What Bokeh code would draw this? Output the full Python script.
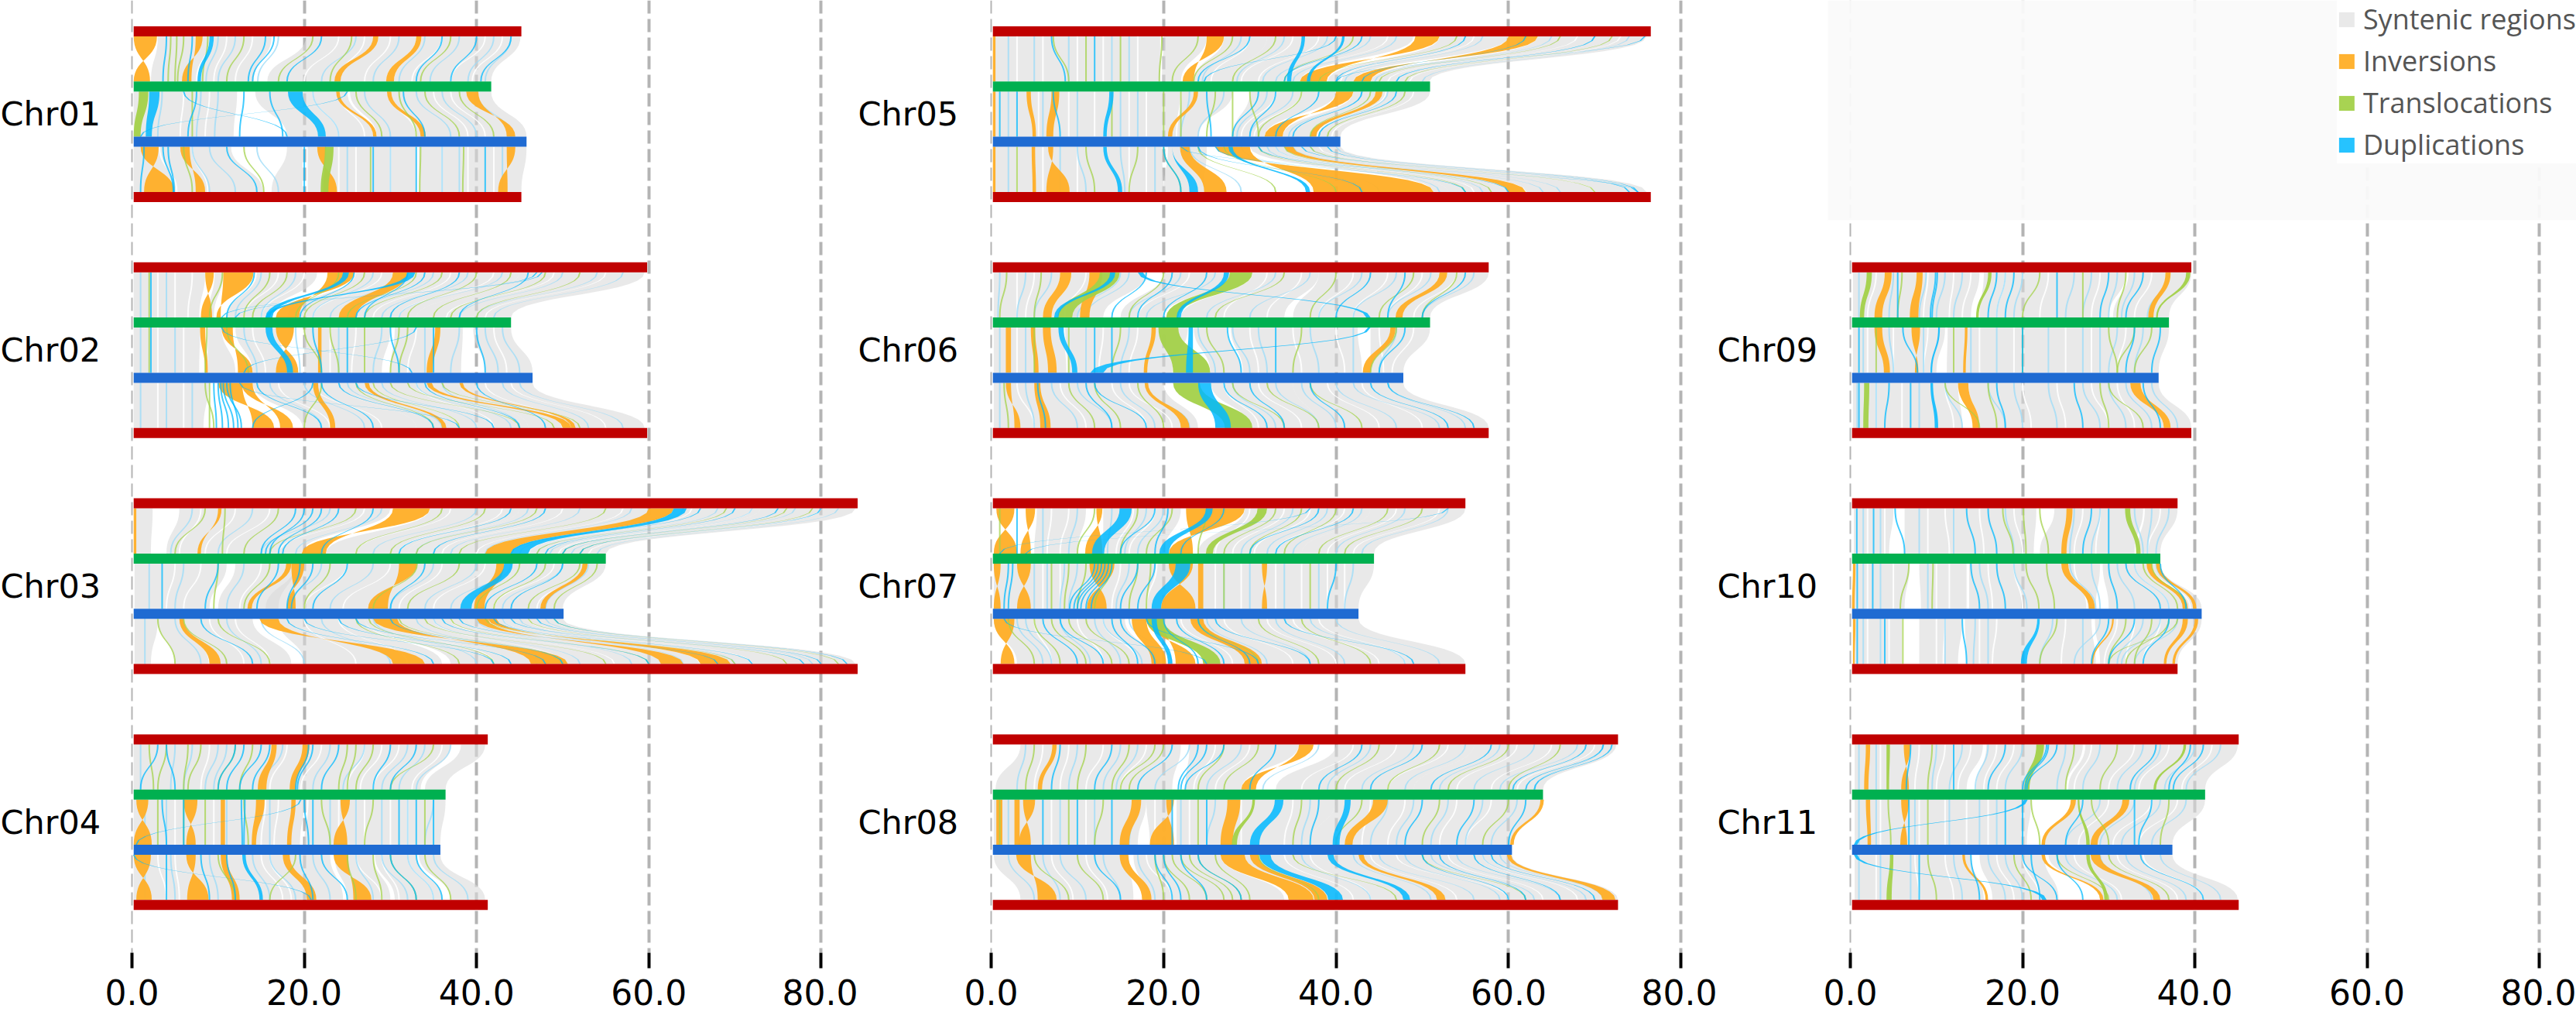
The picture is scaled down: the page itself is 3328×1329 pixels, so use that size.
from bokeh.plotting import figure
from bokeh.models import Range1d, FixedTicker, NumeralTickFormatter, Legend, LegendItem, Grid, ColumnDataSource
from bokeh.layouts import row as bk_row
from bokeh.core.properties import value
from bokeh.embed import file_html
from bokeh.resources import INLINE
import numpy as np

TICKS = [0, 20, 40, 60, 80]
LEGEND_LABELS = ["Syntenic regions", "Inversions", "Translocations", "Duplications"]

# each ribbon: (top_start, top_end, bottom_start, bottom_end) in Mb; a pair (top, bottom) is a hairline.
# every chromosome has three gaps: reference->green, green->blue, blue->reference
chr01_len = [45.2, 41.7, 45.8]
chr01_syn = [[(3.0,9,2.2,7.4),(9.5,16.2,8,14.1),(20.2,33,15.7,29.5),(33.6,45.1,30.4,41.7)],
             [(0.2,12.2,0.2,11.8),(14.3,25,18.0,28),(25.3,41.7,28.4,45.8)],
             [(0.2,11.5,0.2,15.2),(18.0,19.8,16.2,19.8),(20.4,33,20.4,33),(33.3,45.8,33.3,45.2)]]
chr01_inv = [[(0.2,2.9,2.1,0.2),(7.4,8.2,6.9,5.8),(28.0,28.6,23.5,24.2),(33,33.6,29.5,30.4)],
             [(23.7,24.1,28,28.4),(29.6,30.1,33.5,34.1),(38.8,40.2,44.5,43.5)],
             [(1.0,3.1,4.9,1.4),(5.6,6.7,8.5,7.4),(21.5,22.5,23.8,22.2),(43.5,44.5,43.6,42.5)]]
chr01_tra = [[(4.5,4.2),(5.2,5.0),(6.0,5.3),(8.8,8.2),(13,11),(21,17),(37,33.5),(25.5,23)],
             [(0.8,1.9,0.2,1.0),(7,7),(26,29),(34,38),(31,33),(38,42)],
             [(22.4,23.4,21.9,22.8),(6,7),(13,15.3),(27.7,27.7),(33.5,33.4),(38.5,38.4)]]
chr01_dup = [[(9.0,9.5,7.6,8.0),(4.0,3.6),(7,6.5),(15.5,13.5),(16.5,14),(36,33),(40,37),(44,40.5),(22,18)],
             [(2.0,3.2,1.6,2.3),(18.1,19.8,21.6,22.5),(7.5,6.5),(13,12.5),(16,17.5),(31.5,34),(6,18),(25,1)],
             [(1.4,1.0),(3.6,4.8),(4.2,4.9),(11,14.5),(28,28),(33,33),(41,41),(20,20)]]
chr01_white = [[(11,9.5),(14,12),(24,20),(27,24),(30,27),(36,32.5),(41,37),(43,39.5)],
               [(6,5.6),(9,8.5),(21,24),(24,27),(30,33),(35,39),(37,41)],
               [(3.2,5.2),(7,8.8),(24,24),(26,26),(30,30),(36,36),(39,39),(42,42)]]
chr01_pale = [[(10,8.6),(12,10),(17,14.6),(26,22),(31,28),(34,31),(38,34.6),(42,39),(44,41)],
              [(3.5,3),(8,7.5),(10,9.6),(21,24),(27,30),(33,37),(36,40),(40,44)],
              [(7,9),(9,12),(14.5,17),(25,25),(30,30),(36,36),(38,38),(43,43)]]

chr02_len = [59.8, 44.0, 46.5]
chr02_syn = [[(0.2,8.5,0.2,7.8),(9.6,10.6,8.8,9.5),(14.5,21.5,11,16),(26,33,18,23),(33,45,23,33),(45,59.5,33,44)],
             [(0.2,7.9,0.2,7.8),(8.8,10.4,8.8,12),(12,17,14,18),(20,30,20,29),(30.5,38.4,30,38.2),(39.6,44,41,46.5)],
             [(0.2,8.9,0.2,8.3),(14,24,19.8,33),(24,38,33,46),(38,46.5,46,59.5)]]
chr02_inv = [[(8.5,9.5,9.3,8.0),(10.6,14.1,10.3,9.8),(22.7,25.8,19.4,16.7),(30.3,32,24,26)],
             [(7.9,8.5,8.5,8.8),(10.4,11.7,14,12.3),(16.7,18.8,19.3,16.7),(21.6,22,21.6,22),(35.2,35.8,34.2,34.9)],
             [(10,12.8,16.5,14),(12.7,14,18.7,17.2),(21,21.6,23,23.6),(34.2,34.8,50,51),(27,27.5,36,36.5),(38,38.4,51,51.5)]]
chr02_tra = [[(2,2),(10.5,9),(16,13),(18,14),(24,19),(27,20),(33,25),(36,27),(40,32),(44,35),(48,37),(52,40)],
             [(2,2),(8.7,8.5),(20,22),(27,27),(31,30),(32,31),(11,13.5),(23,24)],
             [(9,9),(8.5,9.5),(26,35),(30,45),(32,49),(36,52),(28,38),(22,20)]]
chr02_dup = [[(2.2,2.2),(14.2,11),(24.5,25.2,15.5,16.3),(32,32.9,15.5,16),(47.6,10.4),(25.8,19.5),(32,27),(38,30),(47,12),(34,26),(46,38)],
             [(2.2,2.2),(10.4,32.5),(15.5,16.3,18,18.7),(33,13),(21,22),(25,25),(30,31),(35,35),(40,41)],
             [(9.5,9.8),(10,10.5),(10.3,11.2),(10.6,11.8),(11,12.7),(11.4,12.3),(12.5,38),(14.5,22),(22,28),(24,35),(26,42),(21,14),(34,45),(40,48)]]
chr02_white = [[(3,3),(5,5),(7,6.5),(17,13),(20,15),(29,21),(37,28),(42,31),(49,36.5),(55,41)],
               [(3,3),(6,6),(14,15.5),(23,23),(26,25.5),(33,32),(42,43.5)],
               [(3,3),(6,6),(17,23),(21,29),(28,38),(33,42),(41,50),(44,55)]]
chr02_pale = [[(1,1),(4,4),(15,12),(19,15),(28,21),(31,23),(35,26),(39,29),(43,31),(50,38),(54,40),(57,42)],
              [(1,1),(5,5),(13,14.5),(19,19.5),(24,24),(29,28),(34,34),(38,37),(41,42.5),(43,45)],
              [(1,1),(4,4),(7,7),(16,22),(20,27),(25,36),(29,40),(33,44),(36,45),(43,53),(45,57)]]

chr03_len = [84.3, 55.0, 50.1]
chr03_syn = [[(0.3,2.4,0.3,2.2),(5.5,24,4,15),(24,30,15,19.7),(34.6,45,22.5,32),(45,60,32,43),(60,73,43,50),(73,84,50,55)],
             [(0.3,11,0.3,9),(12,19,10,17),(19,33,15.5,28),(33,46,28,39),(46,55,39,50)],
             [(0.3,3,0.3,2.2),(3,14,5,18.5),(17,27,20,36),(27,39,37,55),(39,50,55,84)]]
chr03_inv = [[(0.2,0.5,0.2,0.5),(10,10.4,8,7.6),(30.3,34.6,22.5,19.7),(60,62.9,41,44)],
             [(17.9,18.5,13.4,13.9),(18.5,20,19,18),(31,33.1,29.7,27.4),(42.3,43.2,39.7,40.9),(52.3,52.9,47.4,48)],
             [(5.5,6,9,10.3),(14.8,17,34,30.3),(28,30.8,50.6,46.3),(40,41.3,64,61.4),(41.3,42.3,69.5,66)]]
chr03_tra = [[(8.5,5),(10.8,10.5),(17,13),(26,16),(36,26),(41,30),(47,33),(55,38),(69,47),(76,50),(79,52)],
             [(10,9.5),(16,13),(23,20),(33.1,28),(38,32),(48,42),(52,46),(45,40),(54,49)],
             [(3,5),(6,11),(10,16),(26,38),(27.5,42),(31,50),(34,55),(37,60),(41,70),(46,76),(49,82)]]
chr03_dup = [[(19,15),(20,16),(21,15.5),(22,17),(24,17.5),(28,22),(44,31),(48,35),(62.9,64.4,44,46),(66,44),(70,48),(75,50),(80,52)],
             [(19.5,18),(21,18.5),(3.5,3.5),(10,8.5),(17,14.5),(25,21),(34,30),(43.2,44.2,38.1,39.4),(50,44),(47,41)],
             [(8,14),(18,35),(20,42),(24,44),(26,48),(30,50),(36,60),(38,68),(42,72),(44,78),(47,80),(49,83)]]
chr03_white = [[(8,5.5),(12,8.5),(16,11),(27,17),(37,26),(43,31),(50,36),(57,40),(65,46),(72,49.5),(80,53)],
               [(5,4),(8,6),(15,12.5),(25,20),(30,24.5),(36,31),(41,35),(49,42),(53,47)],
               [(6,9),(9,13),(12,16),(20,26),(24,32),(30,42),(35,50),(37,56),(43,66),(46,72)]]
chr03_pale = [[(7,4.5),(14,10),(23,15),(29,19),(40,28),(46,33),(52,37),(58,41),(64,45),(68,47),(72,48.5),(77,51),(82,54)],
              [(2,2),(6,5),(13,11),(22,18),(28,23),(35,30),(40,34),(44,37),(50,43),(53,48)],
              [(1.5,1.5),(5,8),(11,15),(15,20),(22,30),(28,40),(33,47),(35,52),(40,58),(43,64),(45,70),(48,79)]]

chr04_len = [41.3, 36.4, 35.8]
chr04_syn = [[(0.2,37,0.2,33.5),(38.2,41,34,36.4)],
             [(0.2,20,0.2,19.5),(20.5,36.4,20,35.8)],
             [(0.2,23,0.2,24.5),(23.5,28,25,30),(28.2,33,30.5,36),(33.3,35.8,37,41)]]
chr04_inv = [[(16.2,16.8,14.6,15.6),(19.8,20.6,18.3,19)],
             [(0.5,1.9,2.3,0.2),(6,7.6,7.4,6.3),(10.3,10.8,10.3,10.8),(14.4,15.4,13.9,14.4),(24.2,25.3,25,23.4),(18.5,19,18,18.5)],
             [(0.2,2.2,2.3,0.5),(6.3,7.4,8.9,6.4),(10.3,11,11.6,12.5),(17.5,18.3,20.3,21.4),(23.4,25.1,27.8,25.7)]]
chr04_tra = [[(2,2.5),(4,3),(6.5,6),(8,6.5),(12,10),(14,12.5),(25,24),(26,25),(28,26),(35,30)],
             [(3,3),(6,6),(8.5,8.5),(13,13.5),(22,23),(28,27),(34,34)],
             [(10,12),(19,16),(25,26),(28,29),(30,33),(34,37)]]
chr04_dup = [[(4,5),(12,10),(13,11),(15,12.5),(16,14),(21,19.2),(20.5,19),(24,22),(30,28),(33,30),(3,1)],
             [(19.6,0.5),(12.7,12.8),(13.1,13),(3.5,4),(6,6),(20,20.5),(21,21),(31,31),(33,33),(35,35)],
             [(12.8,13.2,14.8,15.2),(0.2,20.8),(4,4),(8,9),(11,12),(19.5,21),(22,25),(30,33),(33,36)]]
chr04_white = [[(9,8),(18,16),(22,19.6),(27,25),(29,26.5),(31,28),(36,32.5)],
               [(5,5),(9.5,9.5),(15.5,15),(17,16.5),(24,24),(27,27),(30,30),(32,32)],
               [(3,4),(5,5.5),(15,17.5),(16,18.5),(26,29),(29,31),(32,35)]]
chr04_pale = [[(1,1),(5,4.5),(7,6),(10,8.5),(11,9.5),(17.5,15),(23,21),(27,24.5),(32,29),(34,31),(37,33)],
              [(1.5,1.5),(4,4),(11,11),(16,16),(23,23),(26,26),(29,29),(32,32),(35,34)],
              [(1.5,1.5),(4.5,5),(9,10),(14,16),(16,19),(21,23),(26,28),(29,32),(32,35),(35,39)]]

chr05_len = [76.5, 50.9, 40.5]
chr05_syn = [[(0.3,19.6,0.3,19.6),(20,25,19.8,22),(27,32,23.5,28),(32,49,28,35.8),(52,60,39,42),(63.4,76,44,50.8)],
             [(0.3,20,0.3,20),(20,28,20,24),(30,40,28,31.7),(42,50.9,33.8,40.5)],
             [(0.3,19.8,0.3,20),(20.5,25,20,24.7),(30,32,51.3,53),(32,40.5,53,76)]]
chr05_inv = [[(0.2,0.5,0.2,0.5),(25,27,23.5,22.2),(49.2,52,38.9,35.8),(60,63.4,44,42)],
             [(0.2,0.5,0.2,0.5),(4.1,4.6,4.8,5.2),(7,7.9,6.4,7.2),(23.5,24,20.5,21),(40,42,33.8,31.7),(44.6,45.4,37,37.7)],
             [(0.2,0.5,0.2,0.5),(4.7,5.1,4.8,5.2),(6.6,7.2,9.1,6.4),(21.9,23,24.7,27.3),(26,30,51.3,37.4),(34,35,60,62)]]
chr05_tra = [[(7.2,9),(11,11),(15,15),(19.8,19.5),(24,21),(28,23.5),(33,28),(42,34),(54,38),(66,45),(72,48)],
             [(14,14),(20,20),(22,22),(26,25),(28,28),(30,31),(36,31),(44,37),(48,39)],
             [(3,3),(11,12),(17,16),(20,22),(24,33),(27,40),(31,55),(34,58),(37,70)]]
chr05_dup = [[(7,8.6),(12,12),(36,36.4,34.3,34.8),(40.7,41,36.6,37),(40,24.7),(75.8,40),(43,34),(55,40),(62,43),(70,47),(30,24)],
             [(1,1),(7.2,8),(13.7,14.2,13,13.4),(3,3),(25,25.5),(31,28),(33,30),(38,33),(43,35),(47,38)],
             [(13,13.4,14.7,15.2),(20,22),(21,21,23,24),(27.5,28,36.5,37),(22,75),(24,43),(26,55),(31,60),(36,74),(39,75)]]
chr05_white = [[(3,3),(6,6),(10,10),(13,13),(17,17),(30,25.5),(35,29),(38,31),(46,34),(56,40.5),(68,46),(73,48.5)],
               [(5.5,5.5),(9,9),(12,12),(16,16),(18,18),(22,21.5),(33,29),(36,30.5),(45.8,37.8),(49,39.5)],
               [(3,3),(6,6),(10,10),(16,16),(18,18),(33,56),(35,62),(38,70)]]
chr05_pale = [[(2,2),(5,5),(9,9),(14,14),(16,16),(29,24.5),(34,28.5),(39,31.5),(44,33),(47,35),(57,41),(65,44.5),(70,47),(74,50)],
              [(2,2),(6,6),(10,10),(15,15),(17,17),(23,22),(27,24),(32,28.5),(35,30),(43,34.5),(46,38)],
              [(2,2),(8,8),(10,11),(15,15.5),(19,19),(23,29),(29,45),(32,52),(33,57),(35,64),(37,66),(40,74)]]

chr06_len = [57.7, 50.9, 47.8]
chr06_syn = [[(0.3,8,0.3,6),(9.3,12.6,7,10),(14.9,18,9.4,13),(20,28,15,20),(30.3,38,22,34),(38,57.7,35,50.9)],
             [(0.3,22.8,0.3,21),(23.5,27.3,25.4,29),(27.8,42.5,29.2,43),(44,50.9,44,47.8)],
             [(0.3,20,0.3,24),(25.5,35,30,38),(35,47.8,38,57.7)]]
chr06_inv = [[(8,9.3,6,7),(11.4,12.9,10.3,11.4),(52,52.9,46.9,47.7)],
             [(1.7,2.3,1.7,2.3),(4.6,5.1,5,5.5),(6,6.9,6.6,7.6),(18.6,19.1,17.7,18.1),(46.3,46.9,43.1,44)],
             [(1.7,2.3,3.4,2.7),(5,5.7,5.7,6.9),(17.8,18.2,22,23)]]
chr06_tra = [[(12.6,14.9,7.7,9.4),(27.7,30.3,20.3,21.7),(1.8,1),(5.8,5),(40,37),(49,45),(54,50),(20,16),(34,26)],
             [(19.4,21.7,21.1,25.4),(5,5),(15,14),(25,27),(36,35),(47,44),(9,9)],
             [(21.1,24.2,27.1,30.3),(1.5,2),(9,12),(17,20),(28,34),(32,38),(12,15),(37,43)]]
chr06_dup = [[(17,17.6,43.5,44),(13.8,14.4,7.3,7.8),(27,27.6,21.5,22),(18,14),(21,17),(25,20),(44,40),(48,46),(55,50)],
             [(22.9,23.4,22.6,23.4),(7.8,8.4,9.4,10),(27.4,29),(43.7,44,11.5,13),(12,12),(14,14),(33,33),(48,45)],
             [(24,25.5,26,27.8),(5.4,6.3),(11,14),(12,18),(27,32),(30,34),(37,41),(44,53),(46,56)]]
chr06_white = [[(3,3),(5,4),(11,8.5),(19,14),(23,17),(32,27),(36,32),(42,38),(46,42),(50,46),(54,49)],
               [(3,3),(8.5,8.8),(13,12.5),(17,16),(30,31),(35,36),(40,41),(45,45.5),(49,46.5)],
               [(3,5),(8,11),(14,18),(16,21),(27,31),(31,36),(39,45),(43,50)]]
chr06_pale = [[(1,0.8),(4,3),(7,5),(15,10),(16,11),(22,16),(26,18),(33,25),(37,30),(43,38),(47,42),(51,46),(56,50)],
              [(1,1),(4,4),(11,11),(16,15),(24,26),(28,30),(31,32),(37,38),(42,42),(47,45)],
              [(1,1),(4,5),(7,10),(10,14),(15,19),(18,23),(28,33),(33,38),(36,40),(40,47),(42,52),(46,55)]]

chr07_len = [55.0, 44.4, 42.6]
chr07_syn = [[(5.3,11,5,10),(13,22,13,20),(29.4,44,24,36),(44,55,36,44.4)],
             [(0.3,24,0.3,24.5),(24,44.4,24.5,42.6)],
             [(0.3,15.5,3,19),(20,30,25,38),(30,42.6,38,55)]]
chr07_inv = [[(0.6,2.7,3,0.3),(4,5.1,4.6,3.4),(12.2,12.9,12.9,10.9),(22.6,29.4,23.4,20.6)],
             [(0.3,1.1,1.1,0.3),(3,4.6,4.6,3),(11.4,14.3,13.4,11.1),(20.6,23.4,23.7,19.7),(24,24.6,24,24.6),(31.4,32,32,31.4)],
             [(0.3,2.7,2.7,1.1),(16.3,18,18.6,20.3),(18,20,23.7,21.4),(23.1,24.6,29.4,31.4)]]
chr07_tra = [[(30.9,32,24.9,25.7),(1,1),(12,10),(17,15),(21,18),(25,24),(33,27),(36,30),(40,34),(46,38),(50,41)],
             [(7,7),(9,8.5),(11,10),(14,12),(17,16),(18.5,18),(27,27),(37,37)],
             [(18,20,24.6,26.6),(2,5),(5,8),(7,11),(9,14),(11,16),(24,31),(31,38),(36,44)]]
chr07_dup = [[(14.9,16.3,11.7,13.1),(24.9,25.7,19.5,20.6),(37,1),(53,4),(19,15),(20.5,19),(27,22),(38,30),(42,33),(3,3)],
             [(12,9.1),(12.4,9.6),(12.8,10),(13.2,10.4),(13.6,11),(14,11.6),(21.4,23.1,18.6,19.7),(2,1.5),(2.5,2),(17,15),(19,17),(40,39)],
             [(18.6,19.2,20.5,21),(20,24),(21.5,27),(1.5,25),(26,37),(24,30),(6,10),(8,13),(14,17),(15,19),(34,49),(18,31)]]
chr07_white = [[(7,6.5),(9,8),(16.5,14.5),(19,16),(30,26),(34,28),(37,30.5),(41,33),(47,39),(52,42)],
               [(6,6),(8,8),(15,14),(19.2,18),(26,26),(29,29),(33,33),(36,36),(39,39),(41,41)],
               [(5,7),(10,13),(13,17),(22,28),(27,35),(32,40),(35,45),(38,48)]]
chr07_pale = [[(6,6),(10,9),(14,13.5),(18,15.5),(20,17),(35,29),(39,32),(43,35),(48,40),(53,43)],
              [(5,5),(6.5,6.5),(8.5,8),(10,9),(16,14.5),(27,27),(30,30),(34,34),(38,38),(42,41)],
              [(3,6),(4,7),(8,11.5),(12,15),(13,17.5),(16,21),(25,32),(29,37),(33,41),(37,48),(40,52)]]

chr08_len = [72.7, 64.0, 60.4]
chr08_syn = [[(3.4,22,0.5,21),(23,35.7,22.5,29),(40,56,33,49),(56,72.5,49,64)],
             [(0.3,18,0.3,17),(18,21,18.4,21.2),(21.5,40,21.5,37),(40,64,37,60.4)],
             [(0.3,16,3.4,16.5),(16.5,26.6,18,34),(29.4,45,37.4,56),(45,60.4,56,72.7)]]
chr08_inv = [[(7.1,7.6,5.4,5.9),(35.7,37.4,30.7,29)],
             [(0.6,1.3,0.6,1.3),(2.7,3.3,2.7,3.3),(3.7,5.1,4.6,3.2),(16.3,17.4,14.9,16),(20.3,21.2,21.2,18.4),(27.4,28.9,26.6,28),(44.3,46,41,41.9),(63.7,64.1,60.2,60.6)],
             [(2.9,4.6,7.6,5.4),(14.9,15.9,17.5,18.6),(26.6,29.4,34.5,37.4),(30,31,37.5,39),(42.6,43.2,51.7,52.7),(59.8,60.3,70.9,72.4)]]
chr08_tra = [[(5,4),(11,10),(19,15),(20,16),(27,24),(31,27),(45,40),(60,53),(66,60),(16,14),(52,46)],
             [(1,1),(9,9),(13,12),(24,24),(30.3,30.6,27.9,28.5),(36,35),(43,40),(52,50),(60,57)],
             [(5,9),(10,13),(19,20),(20,23),(21,25),(22,27),(23,28),(24,29),(26,30),(31,38),(35,47),(50,62)]]
chr08_dup = [[(8,7),(14,12),(21,17),(24,21.7),(25,22),(27,22.5),(33,30),(43,38),(50,44),(58,51),(69,60.5),(71,62),(72,63)],
             [(6,6),(10,10),(14,14),(21,21),(32.9,33.9,30,31.1),(41,41.7,39.6,40.4),(25,25),(38,37),(50,48),(56,54),(62,60)],
             [(12,15),(19,21),(20,22),(22,25),(24,29),(31.1,32.4,39.1,40.8),(39,39.7,47.8,48.6),(50,60),(52,62),(56,66),(58,70)]]
chr08_white = [[(6,5),(9,8),(13,11),(18,15),(26,23.5),(30,26),(42,36),(47,41),(53,46),(61,54),(65,58),(70,61)],
               [(7,7),(11,11),(19,19),(23,23),(29,29),(35,34),(44,43),(48,46),(54,52),(58,55)],
               [(7,9.5),(11,13.5),(15.5,17),(18,21),(34,42),(37,44),(44,54),(47,60),(53,64),(57,68)]]
chr08_pale = [[(4,3),(10,9),(15,13),(17,14.5),(23,19),(29,25),(38,31.5),(44,39),(49,43),(55,48),(59,52),(63,56),(68,59),(71,63)],
              [(2,2),(8,8),(12,12),(17,16),(22,22),(26,25),(37,36),(46,44),(49,47),(53,51),(57,55),(61,58)],
              [(2,5),(6,8),(8,11),(13,15),(17,19),(36,44),(42,51),(45,56),(48,59),(51,63),(54,66),(57,69),(59,71)]]

chr09_len = [39.6, 37.0, 35.8]
chr09_syn = [[(0.3,15,0.3,14),(15.5,32,15,30),(32.3,39.6,30.5,37)],
             [(0.3,11,0.3,10),(11.3,37,11.2,35.8)],
             [(0.3,12.5,0.3,13),(13.7,32.5,15,36.4),(33.7,35.8,37.2,39.6)]]
chr09_inv = [[(4,4.8,2.8,3.7),(7.7,8.4,6.9,7.9),(36.6,37.2,34.6,35.2)],
             [(2.8,3.7,3.9,4.6),(7.1,8.1,7.9,7.5),(13.3,13.6,13.1,13.4)],
             [(12.5,13.7,14.2,15),(32.5,33.7,36.4,37.2)]]
chr09_tra = [[(1.9,2.5,1.1,1.6),(16,16.4,14.6,14.9),(39,39.5,35.5,35.7),(6,5.5),(22,20),(27,27),(32,31)],
             [(3,3),(12,12),(20,20),(30,31),(33,31),(35,33)],
             [(1.6,2.2,1.5,2.1),(11,15),(16,17),(29,30),(30,34)]]
chr09_dup = [[(9.9,9.3),(10.1,9.5),(5.5,5.5),(17,16),(19,18),(24,24),(30,29),(34,32)],
             [(6.1,7.8),(10.2,10.4,9.3,9.5),(1,1),(20,20),(33,32),(36,35)],
             [(9.3,9.6,9.8,10.2),(1,1),(4.5,4),(7,7),(17,18),(26,27),(34,36)]]
chr09_white = [[(3,2),(9,8.5),(12,11.5),(14,13),(18,17),(23,22),(29,28),(35,33)],
               [(2,2),(5,5),(9,8.5),(15,15),(19,19),(25,25),(28,28),(32,31)],
               [(3,3),(6,6),(11,12),(20,21),(24,25),(28,30),(31,33)]]
chr09_pale = [[(1,1),(5,4.5),(8.8,8),(11,10),(13,12),(18,17),(20,19),(26,25),(28,27),(31,30),(33,31.5),(37,34.5)],
              [(1.5,1.5),(4.5,5),(8.5,8.5),(14,14),(17,17),(23,23),(27,27),(29,29),(31,30),(34,33)],
              [(0.8,0.8),(3,3),(8,8),(11,13),(16,18),(19,20),(23,24),(27,29),(30,32),(32,35),(35,38)]]

chr10_len = [38.0, 36.0, 40.8]
chr10_syn = [[(0.4,5,0.4,4.5),(6.3,21.6,6.3,21.3),(23.7,34,22,33),(34.2,38,33.3,36)],
             [(0.4,6.9,0.4,6.3),(8,13.5,8.2,13.5),(13.8,29,13.8,28.5),(29.3,36,30,40.8)],
             [(0.4,6,0.4,6),(8,13,8,12.5),(13.3,21.7,13.5,19.8),(22,28,20.5,28.5),(28.4,40.8,29,38)]]
chr10_inv = [[(25.1,25.8,24.5,25.1)],
             [(0.3,0.6,0.2,0.5),(24.5,25.3,27.7,28.4),(34.4,35,38.6,39.2),(35.5,36,39.8,40.2)],
             [(0.3,0.6,0.3,0.5),(38.6,39.2,36.4,36.7),(40,40.4,37.4,37.7),(30.4,30.6,28,28.2)]]
chr10_tra = [[(17.7,18.9),(20.1,20.4),(31.9,32.5,33.2,33.7),(22,23)],
             [(9.6,9.5),(20.4,21.9),(22.8,23.7),(6.8,5.8),(34,38),(35,39)],
             [(6.1,6.1),(24,22),(32,30),(35,33),(37,32),(38,30)]]
chr10_dup = [[(0.75,0.75),(2.7,2.7),(5.2,6.3),(13.5,14.5),(16,17),(28,27),(30,30)],
             [(0.8,0.8),(2.6,2.6),(14,15),(17,18),(30,31),(32,36),(36,39)],
             [(21.7,22,19.8,20.5),(0.8,0.8),(4,4),(13,13.5),(30,28),(33,30),(37,34)]]
chr10_white = [[(2,2),(4,4),(9,9),(11,11.5),(15,15.5),(19,20),(27,26),(29,28.5),(36,34.5)],
               [(2,2),(5,5),(10,10),(11.5,11.5),(16,16.5),(19,20),(26,27.5),(33,37),(35,39.5)],
               [(2,2),(4.5,4.5),(10,10),(11,10.8),(15,15),(17,16.5),(25,24.5),(31,29.5),(33,32),(36,34)]]
chr10_pale = [[(1.5,1.5),(3.5,3.5),(8,8),(12,12),(18,19),(26,25.5),(29,28),(33,34),(35,34.5),(37,35.5)],
              [(1.5,1.5),(3.5,3.5),(9,9),(15,16),(19,20.5),(25.5,28.5),(28,29),(31,33),(33,37),(35.5,40)],
              [(1.5,1.5),(3.5,3.5),(11,11),(14.5,14.3),(16,16),(23.5,22),(27,27),(29,26),(34,31),(36,31.5),(38,33)]]

chr11_len = [45.1, 41.2, 37.4]
chr11_syn = [[(0.5,15.4,0.5,13.5),(15.8,27,14.6,25),(27.3,45,25.3,41.2)],
             [(0.5,21,0.5,20.5),(26,41.2,22.3,37.4)],
             [(0.5,14,0.5,15.5),(15,22.5,16.5,24.2),(23,37.4,29,45)]]
chr11_inv = [[(1.8,2.3,1.6,2.1),(6.2,7,6.8,5.9)],
             [(1.8,2.3,2,2.4),(5.9,6.8,6.6,5.8),(25.6,26.2,22.2,22.6),(31.6,32.4,27.9,28.7)],
             [(13,13.3,15.7,16),(22.2,22.6,29,29.4),(27.9,29,35.2,36)]]
chr11_tra = [[(4.2,4.6,4.2,4.5),(21.6,22.5,20.2,20.8),(38.7,39,35.2,35.5),(9.5,9),(26,25),(31,29)],
             [(4.4,4.7),(9,9),(26.4,26.6,27.4,27.8),(21,22),(28,30),(37,36)],
             [(4.6,5,4.2,4.8),(27.4,27.8,29.5,29.9),(9,10),(19,21),(24,30),(30,37)]]
chr11_dup = [[(24,20.5),(23,20.3),(22.8,20),(7,6.5),(12,12),(18,16),(35.5,32.5),(41,37.5),(39.5,37)],
             [(20.2,20.6,0.4,0.8),(6.8,6.8),(18,18),(20,20),(33,33),(35,33.5),(27,25)],
             [(0.4,0.8,22.3,22.8),(21,22),(20,24),(33.7,41),(24,27),(8,8),(14,15)]]
chr11_white = [[(3.5,3.5),(8,7.5),(11,10),(14,12.5),(17,15.5),(19,17),(28,26),(33,30),(37,33.5),(42,38.5)],
               [(3.5,3.5),(8,8),(11,11),(13.5,13.5),(16,16),(30,26.5),(35,30.5),(38,33.5)],
               [(3,3),(7.5,8),(11,12),(17,19),(20,22),(26,31.5),(31,38),(34,41)]]
chr11_pale = [[(1,1),(3,3),(10,9.5),(13,11.5),(16,14.5),(20,18),(25,24),(29,27),(34,31),(36,33),(40,36.5),(43,39)],
              [(1,1),(3,3),(7.5,7.5),(11.5,11.5),(15,15),(17,17),(29,25),(33,29),(36,31.5),(39,35)],
              [(1,1),(3.5,3.5),(7,7),(12,13),(16,18),(18,20),(25,31),(29,35),(32,39),(36,43)]]

CHROMS = [
    ("Chr01", chr01_len, chr01_syn, chr01_inv, chr01_tra, chr01_dup, chr01_white, chr01_pale, 0, 0),
    ("Chr02", chr02_len, chr02_syn, chr02_inv, chr02_tra, chr02_dup, chr02_white, chr02_pale, 0, 1),
    ("Chr03", chr03_len, chr03_syn, chr03_inv, chr03_tra, chr03_dup, chr03_white, chr03_pale, 0, 2),
    ("Chr04", chr04_len, chr04_syn, chr04_inv, chr04_tra, chr04_dup, chr04_white, chr04_pale, 0, 3),
    ("Chr05", chr05_len, chr05_syn, chr05_inv, chr05_tra, chr05_dup, chr05_white, chr05_pale, 1, 0),
    ("Chr06", chr06_len, chr06_syn, chr06_inv, chr06_tra, chr06_dup, chr06_white, chr06_pale, 1, 1),
    ("Chr07", chr07_len, chr07_syn, chr07_inv, chr07_tra, chr07_dup, chr07_white, chr07_pale, 1, 2),
    ("Chr08", chr08_len, chr08_syn, chr08_inv, chr08_tra, chr08_dup, chr08_white, chr08_pale, 1, 3),
    ("Chr09", chr09_len, chr09_syn, chr09_inv, chr09_tra, chr09_dup, chr09_white, chr09_pale, 2, 1),
    ("Chr10", chr10_len, chr10_syn, chr10_inv, chr10_tra, chr10_dup, chr10_white, chr10_pale, 2, 2),
    ("Chr11", chr11_len, chr11_syn, chr11_inv, chr11_tra, chr11_dup, chr11_white, chr11_pale, 2, 3),
]

# layout (page pixels)
COL_EDGES = [(0, 1108), (1108, 2218), (2218, 3328)]
COL_X0 = [170, 1280, 2390]
COL_SCALE = [11.13, 11.14, 11.125]
PAGE_H, FRAME_H = 1329, 1230
TRACK_TOP, TRACK_PX, ROW_TRACKS = 40, 71.3, 4.275
BAR_PX = 13
BAR_COLORS = ["#c00000", "#00b050", "#1f6bd2"]
SYN, INV, TRA, DUP = "#dadada", "#ffae26", "#a3d149", "#00b9ff"
FONT = "DejaVu Sans"

S = np.linspace(0, 1, 15)
BX = 3 * S**2 - 2 * S**3
BY = 1.5 * S * (1 - S)**2 + 1.5 * S**2 * (1 - S) + S**3
HAIR = 0.09


def ribbon(r, y0, y1):
    if len(r) == 2:
        t0, t1, b0, b1 = r[0] - HAIR, r[0] + HAIR, r[1] - HAIR, r[1] + HAIR
    else:
        t0, t1, b0, b1 = r
    y = y0 + (y1 - y0) * BY
    xl = t0 + (b0 - t0) * BX
    xr = t1 + (b1 - t1) * BX
    return list(xl) + list(xr[::-1]), list(y) + list(y[::-1])


def collect(gaps, row, want_pairs):
    xs, ys = [], []
    for g, rows in enumerate(gaps):
        base = row * ROW_TRACKS + g
        y0 = base + BAR_PX / 2 / TRACK_PX
        y1 = base + 1 - BAR_PX / 2 / TRACK_PX
        for r in rows:
            if (len(r) == 2) != want_pairs:
                continue
            a, b = ribbon(r, y0, y1)
            xs.append(a)
            ys.append(b)
    return xs, ys


figs = []
for c, (L, R) in enumerate(COL_EDGES):
    x0, sc = COL_X0[c], COL_SCALE[c]
    p = figure(width=R - L, height=PAGE_H, output_backend="svg", toolbar_location=None,
               x_range=Range1d((L - x0) / sc, (R - x0) / sc),
               y_range=Range1d((FRAME_H - TRACK_TOP) / TRACK_PX, -TRACK_TOP / TRACK_PX),
               y_axis_location=None, min_border_left=0, min_border_right=0, min_border_top=0,
               min_border_bottom=PAGE_H - FRAME_H, outline_line_color=None, background_fill_color="white")
    p.grid.visible = False
    for tk, w in (([20, 40, 60, 80], 4), ([0], 2)):
        g = Grid(dimension=0, ticker=FixedTicker(ticks=tk), grid_line_color="#b4b4b4", grid_line_width=w,
                 grid_line_dash="17 7")
        p.add_layout(g)

    ax = p.xaxis[0]
    ax.ticker = FixedTicker(ticks=TICKS)
    ax.formatter = NumeralTickFormatter(format="0.0")
    ax.axis_line_color = None
    ax.major_tick_line_color = "black"
    ax.major_tick_line_width = 4
    ax.major_tick_in = 0
    ax.major_tick_out = 20
    ax.minor_tick_line_color = None
    ax.major_label_standoff = 14
    ax.major_label_text_font = FONT
    ax.major_label_text_font_size = "44px"
    ax.major_label_text_color = "black"

    members = [m for m in CHROMS if m[8] == c]

    if c == 2:
        p.quad(left=(2361 - x0) / sc, right=(3328 - x0) / sc, top=-TRACK_TOP / TRACK_PX,
               bottom=(284 - TRACK_TOP) / TRACK_PX, fill_color="#fafafa", fill_alpha=0.94, line_color=None)

    def draw(idx, pairs, col, alpha):
        xs, ys = [], []
        for m in members:
            a, b = collect(m[idx], m[9], pairs)
            xs += a
            ys += b
        return p.patches(xs, ys, fill_color=col, fill_alpha=alpha, line_color=None)

    r_syn = draw(2, False, SYN, 0.6)
    draw(6, True, "white", 0.9)
    draw(7, True, "#9fdcf8", 0.8)
    r_inv = draw(3, False, INV, 0.95)
    draw(4, True, TRA, 0.75)
    r_tra = draw(4, False, TRA, 0.95)
    draw(5, True, DUP, 0.75)
    r_dup = draw(5, False, DUP, 0.85)

    for m in members:
        name, lens, row = m[0], m[1], m[9]
        tr = [row * ROW_TRACKS + i for i in range(4)]
        src = ColumnDataSource(dict(y=tr, right=[lens[0], lens[1], lens[2], lens[0]],
                                    color=[BAR_COLORS[0], BAR_COLORS[1], BAR_COLORS[2], BAR_COLORS[0]]))
        p.hbar(y="y", left=0.2, right="right", height=BAR_PX / TRACK_PX, fill_color="color",
               line_color=None, source=src)
        p.text(x=[(L - x0) / sc], y=[row * ROW_TRACKS + 1.5], text=[name], text_font=value(FONT),
               text_font_size="43px", text_align="left", text_baseline="middle", text_color="black")

    if c == 2:
        items = [LegendItem(label=t, renderers=[r]) for t, r in zip(LEGEND_LABELS, [r_syn, r_inv, r_tra, r_dup])]
        lg = Legend(items=items, location="top_right", margin=0, padding=18, spacing=5,
                    glyph_width=25, glyph_height=24, label_standoff=9, label_text_font="Open Sans",
                    label_text_font_size="36px", label_text_color="#555555",
                    background_fill_color="white", background_fill_alpha=1, border_line_color=None)
        p.add_layout(lg, "center")
    figs.append(p)

page = bk_row(*figs)
open("out.html", "w").write(file_html(page, INLINE))
